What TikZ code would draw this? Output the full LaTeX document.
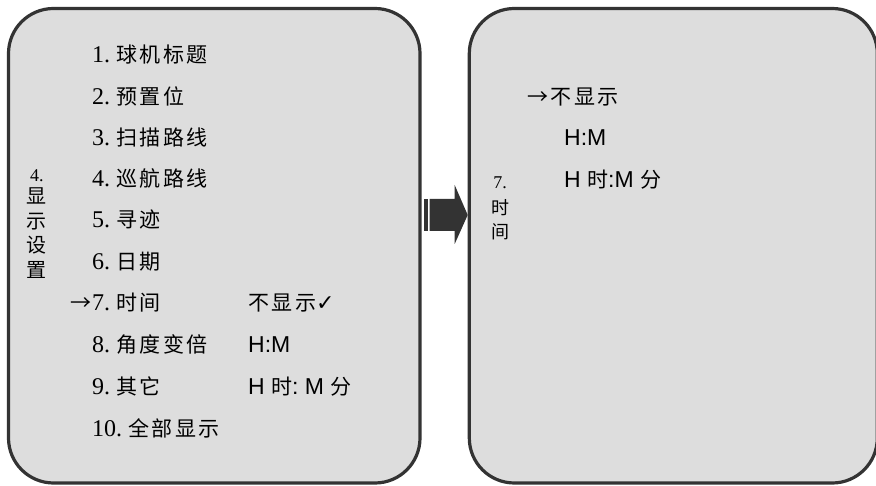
\documentclass[tikz,border=0pt]{standalone}
\usepackage{fontspec}
\setmainfont{Liberation Serif}
\newfontfamily\cjkf[LetterSpace=12]{Noto Sans CJK SC}
\newfontfamily\cjkv{Noto Sans CJK SC}
\newfontfamily\numf{Liberation Serif}
\newfontfamily\sansf{Liberation Sans}
\newfontfamily\symf{DejaVu Sans}
\usetikzlibrary{calc}
\definecolor{panelfill}{HTML}{DDDDDD}
\definecolor{panelline}{HTML}{333333}
\newcommand{\nm}[1]{{\numf\fontsize{24}{24}\selectfont #1}}
\newcommand{\zh}[1]{{\cjkf\fontsize{21}{21}\selectfont #1}}
\newcommand{\hm}[1]{{\sansf\fontsize{23}{23}\selectfont #1}}
\begin{document}
\begin{tikzpicture}[x=1pt,y=-1pt,
  panel/.style={draw=panelline, line width=3.2pt, fill=panelfill, rounded corners=45pt, inner sep=0pt},
  item/.style={anchor=base west, inner sep=0pt},
  vlabel/.style={align=center, inner sep=0pt}]
\useasboundingbox (0,0) rectangle (876,486);
\node[panel, minimum width=411.5pt, minimum height=474.5pt] (L) at (214.25,245.75) {};
\node[panel, minimum width=408pt, minimum height=474.5pt] (R) at (673.3,245.75) {};
% block arrow between the panels
\coordinate (tip) at (R.west |- 0,215);
\coordinate (tail) at ([xshift=2.5pt]L.east |- 0,215);
\fill[panelline] ($(tail)+(0,-16)$) rectangle ($(tail)+(4,16)$);
\fill[panelline] ($(tail)+(5.5,-16)$) -- ($(tip)+(-13,-16)$) -- ($(tip)+(-13,-30)$) -- (tip)
  -- ($(tip)+(-13,29)$) -- ($(tip)+(-13,16)$) -- ($(tail)+(5.5,16)$) -- cycle;
% left panel menu
\node[inner sep=0pt] (t4) at (37,176) {{\numf\fontsize{18}{18}\selectfont 4.}};
\node[vlabel, font=\cjkv\fontsize{20}{24.7}\selectfont] (t4zh) at (37,233) {显\\示\\设\\置};
\node[item] (i1) at (92,63) {\nm{1.}\hspace{6pt}\zh{球机标题}};
\node[item] (i2) at (92,105) {\nm{2.}\hspace{6pt}\zh{预置位}};
\node[item] (i3) at (92,146) {\nm{3.}\hspace{6pt}\zh{扫描路线}};
\node[item] (i4) at (92,187) {\nm{4.}\hspace{6pt}\zh{巡航路线}};
\node[item] (i5) at (92,228) {\nm{5.}\hspace{6pt}\zh{寻迹}};
\node[item] (i6) at (92,270) {\nm{6.}\hspace{6pt}\zh{日期}};
\node[item, anchor=base east] (a7) at (92,311) {\zh{→}};
\node[item] (i7) at (92,311) {\nm{7.}\hspace{6pt}\zh{时间}};
\node[item] (i8) at (92,353) {\nm{8.}\hspace{6pt}\zh{角度变倍}};
\node[item] (i9) at (92,395) {\nm{9.}\hspace{6pt}\zh{其它}};
\node[item] (i10) at (92,436) {\nm{10.}\hspace{6pt}\zh{全部显示}};
\node[item] (v7) at (248,311) {\zh{不显示}{\symf\fontsize{22}{22}\selectfont ✓}};
\node[item] (v8) at (248,353) {\hm{H:M}};
\node[item] (v9) at (248,395) {\hm{H\ }\zh{时}\hm{:\ M\ }\zh{分}};
% right panel
\node[inner sep=0pt] (t7) at (500,183) {{\numf\fontsize{18}{18}\selectfont 7.}};
\node[vlabel, font=\cjkv\fontsize{18}{24}\selectfont] (t7zh) at (500,220) {时\\间};
\node[item] (r1) at (527,105) {\zh{→不显示}};
\node[item] (r2) at (564,146) {\hm{H:M}};
\node[item] (r3) at (564,188) {\hm{H\ }\zh{时}\hm{:M\ }\zh{分}};
\end{tikzpicture}
\end{document}
